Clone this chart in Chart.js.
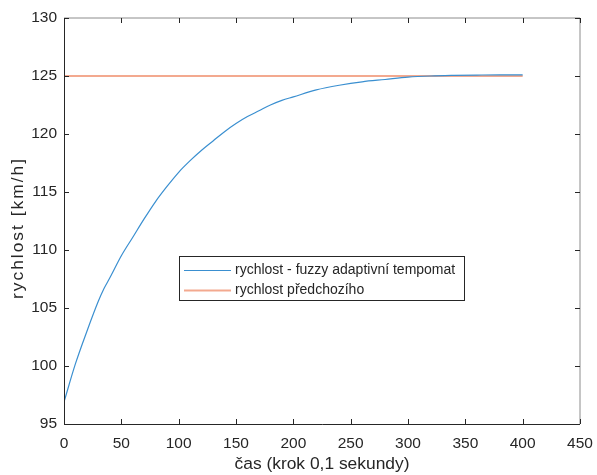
<!DOCTYPE html>
<html>
<head>
<meta charset="utf-8">
<script src="https://cdn.jsdelivr.net/npm/chart.js@4/dist/chart.umd.min.js"></script>
<style>
  body { margin: 0; background: #fff; }
</style>
</head>
<body>
<canvas id="speedChart" width="597" height="475"></canvas>
<script>
// ===== DATA =====
const timeSteps  = [0, 10, 20, 30, 35, 40, 50, 60, 70, 80, 90, 100, 110, 120, 130, 140, 150,
                    160, 170, 180, 190, 200, 220, 240, 260, 280, 300, 320, 340, 360, 380, 400];
const speedFuzzy = [96.9, 100.2, 103.0, 105.6, 106.7, 107.6, 109.5, 111.1, 112.7, 114.2, 115.5, 116.7,
                    117.7, 118.6, 119.4, 120.2, 120.9, 121.5, 122.0, 122.5, 122.9, 123.2, 123.8,
                    124.2, 124.5, 124.7, 124.9, 125.0, 125.05, 125.08, 125.1, 125.1];
const leadTime   = [0, 400];
const speedLead  = [125, 125];
const xTicks = [0, 50, 100, 150, 200, 250, 300, 350, 400, 450];
const yTicks = [95, 100, 105, 110, 115, 120, 125, 130];
const yTitle = 'rychlost [km/h]';

const FONT = 'Liberation Sans, Arial, Helvetica, sans-serif';
const TEXT = '#262626';

// ===== PLUGINS =====
// MATLAB-style box with inward ticks on all four sides
const boxTicks = {
  id: 'boxTicks',
  afterDraw(chart) {
    const { ctx, chartArea: a, scales: { x, y } } = chart;
    ctx.save();
    ctx.lineWidth = 1;
    ctx.strokeStyle = '#8c8c8c';
    ctx.beginPath();
    ctx.moveTo(a.left, a.top); ctx.lineTo(a.right, a.top); ctx.lineTo(a.right, a.bottom);
    ctx.stroke();
    ctx.strokeStyle = TEXT;
    ctx.beginPath();
    ctx.moveTo(a.left + 0.5, a.top); ctx.lineTo(a.left + 0.5, a.bottom + 0.5); ctx.lineTo(a.right, a.bottom + 0.5);
    ctx.stroke();
    ctx.beginPath();
    x.ticks.forEach(t => {
      const px = Math.round(x.getPixelForValue(t.value)) + 0.5;
      ctx.moveTo(px, a.bottom); ctx.lineTo(px, a.bottom - 5);
      ctx.moveTo(px, a.top); ctx.lineTo(px, a.top + 5);
    });
    y.ticks.forEach(t => {
      const py = Math.round(y.getPixelForValue(t.value)) + 0.5;
      ctx.moveTo(a.left, py); ctx.lineTo(a.left + 5, py);
      ctx.moveTo(a.right, py); ctx.lineTo(a.right - 5, py);
    });
    ctx.stroke();
    ctx.restore();
  }
};

// rotated y title, spaced out like the MATLAB export
const yLabel = {
  id: 'yLabel',
  afterDraw(chart) {
    const { ctx, chartArea: a } = chart;
    ctx.save();
    ctx.translate(23, (a.top + a.bottom) / 2 + 7);
    ctx.rotate(-Math.PI / 2);
    ctx.font = '17.4px ' + FONT;
    if ('letterSpacing' in ctx) ctx.letterSpacing = '2px';
    ctx.fillStyle = TEXT;
    ctx.textAlign = 'center';
    ctx.textBaseline = 'alphabetic';
    ctx.fillText(yTitle, 0, 0);
    ctx.restore();
  }
};

// legend box sitting inside the plot
const boxLegend = {
  id: 'boxLegend',
  afterDraw(chart) {
    const { ctx } = chart;
    const bx = 179.5, by = 256.5, bw = 285, bh = 44;
    ctx.save();
    ctx.fillStyle = '#fff';
    ctx.fillRect(bx, by, bw, bh);
    ctx.strokeStyle = '#262626';
    ctx.lineWidth = 1;
    ctx.strokeRect(bx, by, bw, bh);
    ctx.font = '14px ' + FONT;
    ctx.textBaseline = 'middle';
    ctx.fillStyle = TEXT;
    chart.data.datasets.forEach((ds, i) => {
      const ly = 270.5 + i * 20;
      ctx.strokeStyle = ds.borderColor;
      ctx.lineWidth = ds.borderWidth;
      ctx.beginPath();
      ctx.moveTo(184, ly); ctx.lineTo(231, ly);
      ctx.stroke();
      ctx.fillText(ds.label, 235, ly);
    });
    ctx.restore();
  }
};

// ===== CHART =====
new Chart(document.getElementById('speedChart'), {
  type: 'line',
  data: {
    datasets: [
      {
        label: 'rychlost - fuzzy adaptivní tempomat',
        data: timeSteps.map((t, i) => ({ x: t, y: speedFuzzy[i] })),
        borderColor: '#3a8fd0',
        borderWidth: 1.2,
        pointRadius: 0,
        cubicInterpolationMode: 'monotone'
      },
      {
        label: 'rychlost předchozího',
        data: leadTime.map((t, i) => ({ x: t, y: speedLead[i] })),
        borderColor: '#f3a98f',
        borderWidth: 2,
        pointRadius: 0
      }
    ]
  },
  options: {
    responsive: false,
    animation: false,
    layout: { padding: { top: 18, right: 17, left: 0, bottom: 0 } },
    plugins: { legend: { display: false }, tooltip: { enabled: false } },
    scales: {
      x: {
        type: 'linear',
        min: 0, max: 450,
        afterBuildTicks: s => { s.ticks = xTicks.map(v => ({ value: v })); },
        afterFit: s => { s.height = 51; s.paddingLeft = 0; s.paddingRight = 0; },
        grid: { display: false, drawTicks: false },
        border: { display: false },
        ticks: { color: TEXT, font: { family: FONT, size: 15.5 }, padding: 10, maxRotation: 0 },
        title: { display: true, text: 'čas (krok 0,1 sekundy)', color: TEXT,
                 font: { family: FONT, size: 17.4 }, padding: { top: 0, bottom: 0 } }
      },
      y: {
        min: 95, max: 130,
        afterBuildTicks: s => { s.ticks = yTicks.map(v => ({ value: v })); },
        afterFit: s => { s.width = 64; s.paddingTop = 0; s.paddingBottom = 0; },
        grid: { display: false, drawTicks: false },
        border: { display: false },
        ticks: { color: TEXT, font: { family: FONT, size: 15.5 }, padding: 7 }
      }
    }
  },
  plugins: [boxTicks, yLabel, boxLegend]
});
</script>
</body>
</html>
